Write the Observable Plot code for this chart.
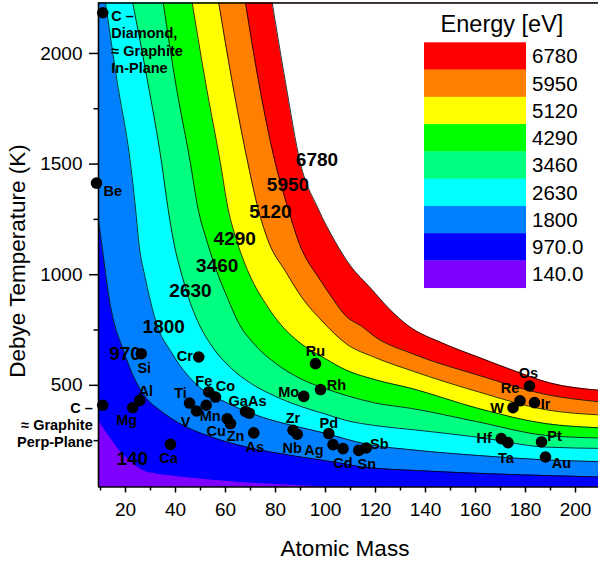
<!DOCTYPE html>
<html><head><meta charset="utf-8">
<script src="https://cdn.jsdelivr.net/npm/d3@7"></script>
<script src="https://cdn.jsdelivr.net/npm/@observablehq/plot@0.6"></script>
<style>
body{margin:0;background:#fff;font-family:Arial,"Liberation Sans",sans-serif;}
#wrap{position:relative;width:598px;height:561px;overflow:hidden;}
#wrap svg{position:absolute;left:0;top:0;}
</style></head><body><div id="wrap"></div>
<script>
// ---- contour boundaries: [atomic mass, Debye temperature]
const contour970  = [[9,345],[12,292],[15,245],[18,200],[21,165],[24,138],[27,115],[32,100],[40,88],[50,77],[60,66],[75,55],[90,46],[100,41],[120,30],[210,10]];
const contour1800 = [[9,1260],[10.5,1140],[12,1010],[13.5,890],[15.3,790],[18.7,673],[22.7,553],[28,447],[34,385],[41.3,330],[54.7,265],[68,222],[88,180],[108,145],[114,132],[140,113],[166,100],[188,92],[210,86]];
const contour2630 = [[12,2228],[16.7,1870],[22,1502],[24,1300],[25.3,1147],[28,980],[30,880],[32,794],[38.7,643],[48,508],[61.3,417],[74.7,356],[88,315],[100,283],[108,258],[116,235],[135,208],[161,183],[188,163],[210,155]];
const contour3460 = [[22.9,2228],[28.9,1870],[34.5,1502],[37,1300],[39.3,1147],[43,980],[46,870],[48.7,794],[55,670],[62,580],[70,510],[80,450],[90,405],[100,370],[108,342],[120,318],[134.7,300],[161.3,265],[188,221],[210,215]];
const contour4290 = [[35.1,2228],[40,1870],[46,1502],[49,1300],[52.7,1147],[57,1000],[61,890],[64.7,794],[72,680],[80,600],[90,530],[100,485],[108,455],[120,420],[134.7,395],[161.3,334],[188,274],[210,262]];
const contour5120 = [[46.7,2228],[52,1870],[58,1502],[61,1300],[64.7,1147],[70,990],[76,870],[80.7,794],[90,690],[100,620],[108,570],[120,525],[134.7,485],[161.3,395],[188,327],[210,308]];
const contour5950 = [[57.3,2228],[62.7,1870],[69,1502],[73,1300],[77.3,1147],[84,1015],[91,890],[98.7,790],[108,690],[120,625],[134.7,565],[161.3,470],[188,390],[210,366]];
const contour6780 = [[68,2228],[73.3,1870],[80,1502],[85,1300],[89.3,1147],[98,974],[103,890],[108,815],[114.7,765],[120,718],[134.7,643],[161.3,545],[188,459],[210,425]];
const contour7610 = [[78.7,2228],[84,1870],[90,1502],[97,1300],[104,1147],[110,1040],[118,940],[126,840],[133,770],[147,690],[161,628],[175,568],[190,510],[210,477]];

// ---- energy levels (legend) and contour labels
const legendLabels = ["6780","5950","5120","4290","3460","2630","1800","970.0","140.0"];
const contourLabelText = ["140","970","1800","2630","3460","4290","5120","5950","6780"];
const contourLabelM = [22.7, 19.8, 35.3, 46, 56.7, 63.7, 78, 85, 96.6];
const contourLabelT = [169, 643, 763, 929, 1042, 1163, 1283, 1404, 1521];

// ---- elements
const elemName = ["Be","C1","C2","Si","Al","Mg","Ca","Ti","V","Cr","Mn","Fe","Co","Cu","Zn","GaAs","GaAs2","As","Zr","Nb","Mo","Ru","Rh","Pd","Ag","Cd","Sn","Sb","Hf","Ta","W","Re","Os","Ir","Pt","Au"];
const elemText = ["Be","C –\nDiamond,\n≈ Graphite\nIn-Plane","C –\n≈ Graphite\nPerp-Plane","Si","Al","Mg","Ca","Ti","V","Cr","Mn","Fe","Co","Cu","Zn","GaAs","","As","Zr","Nb","Mo","Ru","Rh","Pd","Ag","Cd","Sn","Sb","Hf","Ta","W","Re","Os","Ir","Pt","Au"];
const elemMass = [8.4,10.9,10.9,26.3,25.7,22.9,38,45.6,48.4,49.3,52.3,53.3,56,60.7,62,68,69.5,71.3,87,88.7,91.3,96,98,101.3,103,107,113.3,116.3,170.3,173,175,177.8,181.6,183.6,186.4,188];
const elemDebye = [1414,2184,410,643,432,399,233,420,384,628,410,470,447,349,327,382,374,285,297,279,450,598,481,282,232,214,206,217,259,241,399,430,497,422,244,176];

// ---- styles
const xDomain = [9.2, 209.2];
const yDomain = [40.5, 2228];
const bandColors = ["#0000FF","#0080FF","#00FFFF","#00FF80","#00FF00","#FFFF00","#FF8000","#FF0000","#FFFFFF"];
const baseColor = "#8000FF";
const legendColors = ["#FF0000","#FF8000","#FFFF00","#00FF00","#00FF80","#00FFFF","#0080FF","#0000FF","#8000FF"];
const labelOffset = {
  Be:[7,7,"start","middle"], C1:[8.5,-4,"start","top"], C2:[-10,-5,"end","top"],
  Si:[3,14], Al:[6,-10], Mg:[-6,12], Ca:[-2,13], Ti:[-9,-11], V:[-11,10], Cr:[-14,-2],
  Mn:[4,10], Fe:[-5,-12], Co:[10,-12], Cu:[-11,12], Zn:[5,12], GaAs:[2,-11], GaAs2:[0,0],
  As:[1,14], Zr:[0,-13], Nb:[-5,13], Mo:[-15,-5], Ru:[0,-13], Rh:[16,-5], Pd:[0,-11],
  Ag:[-19,5], Cd:[0,14], Sn:[8,13], Sb:[13,-5], Hf:[-17,-1], Ta:[-2,15], W:[-16,0],
  Re:[-10,-13], Os:[-1,-14], Ir:[11,1], Pt:[13,-7], Au:[16,5]
};

const contours = [contour970, contour1800, contour2630, contour3460, contour4290, contour5120, contour5950, contour6780, contour7610];
const elems = elemName.map((n, i) => ({name: n, text: elemText[i], M: elemMass[i], T: elemDebye[i]}));
const font = 'Arial, "Liberation Sans", sans-serif';

const plot = Plot.plot({
  width: 598, height: 561,
  marginLeft: 98, marginRight: 0, marginTop: 2.5, marginBottom: 74.5,
  x: {domain: xDomain},
  y: {domain: yDomain},
  style: {fontFamily: font, background: "transparent", color: "#000", overflow: "visible"},
  marks: [
    Plot.frame({fill: baseColor, stroke: null}),
    ...contours.map((c, i) => Plot.areaY(c, {x: d => d[0], y1: d => d[1], y2: () => yDomain[1] + 300, fill: bandColors[i], curve: "monotone-x", clip: true})),
    ...contours.slice(1).map(c => Plot.line(c, {x: d => d[0], y: d => d[1], stroke: "#000", strokeWidth: 0.8, curve: "monotone-x", clip: true})),
    Plot.ruleX([xDomain[0]], {stroke: "#000", strokeWidth: 1.6}),
    Plot.ruleY([yDomain[0], yDomain[1]], {stroke: "#000", strokeWidth: 1.6}),
    Plot.axisX(d3.range(20, 201, 20), {tickSize: 6, tickPadding: 9.5, fontSize: 19, strokeWidth: 1.5, label: null, tickFormat: d => String(d)}),
    Plot.axisX(d3.range(10, 200, 20), {tickSize: 4, text: null, strokeWidth: 1.5, label: null}),
    Plot.axisY([500, 1000, 1500, 2000], {tickSize: 9, tickPadding: 7, fontSize: 19, strokeWidth: 1.5, label: null, tickFormat: d => String(d)}),
    Plot.axisY([250, 750, 1250, 1750], {tickSize: 4.5, text: null, strokeWidth: 1.5, label: null}),
    Plot.text(["Debye Temperature (K)"], {frameAnchor: "left", dx: -81, dy: 16, rotate: -90, textAnchor: "middle", lineAnchor: "middle", fontSize: 22.5, fill: "#000"}),
    Plot.text(["Atomic Mass"], {frameAnchor: "bottom", dx: -3.5, dy: 61.3, textAnchor: "middle", lineAnchor: "middle", fontSize: 22.5, fill: "#000"}),
    Plot.text(contourLabelText, {x: (d, i) => contourLabelM[i], y: (d, i) => contourLabelT[i], text: d => d, fontSize: 19, fontWeight: "bold", fill: "#000"}),
    Plot.dot(elems, {x: "M", y: "T", r: 5.8, fill: "#000", stroke: null}),
    ...elems.filter(e => e.text).map(e => {
      const o = labelOffset[e.name];
      return Plot.text([e], {x: "M", y: "T", text: "text", dx: o[0], dy: o[1], textAnchor: o[2] || "middle", lineAnchor: o[3] || "middle", lineHeight: 1.2, fontSize: 14.5, fontWeight: "bold", fill: "#000"});
    })
  ]
});

const wrap = document.getElementById("wrap");
wrap.appendChild(plot);

// legend overlay (top right inside the plot)
const lg = d3.select(wrap).append("svg").attr("width", 598).attr("height", 300).style("pointer-events", "none");
lg.append("text").attr("x", 502).attr("y", 32).attr("text-anchor", "middle")
  .style("font-family", font).style("font-size", "23.5px").attr("fill", "#000").text("Energy [eV]");
const rowH = 27.27;
legendLabels.forEach((lab, i) => {
  const y0 = 42.3 + i * rowH;
  lg.append("rect").attr("x", 424).attr("y", y0).attr("width", 102).attr("height", rowH + 0.3).attr("fill", legendColors[i]);
  lg.append("text").attr("x", 532).attr("y", y0 + rowH / 2 + 7.3)
    .style("font-family", font).style("font-size", "20.5px").attr("fill", "#000").text(lab);
});
</script>
</body></html>
